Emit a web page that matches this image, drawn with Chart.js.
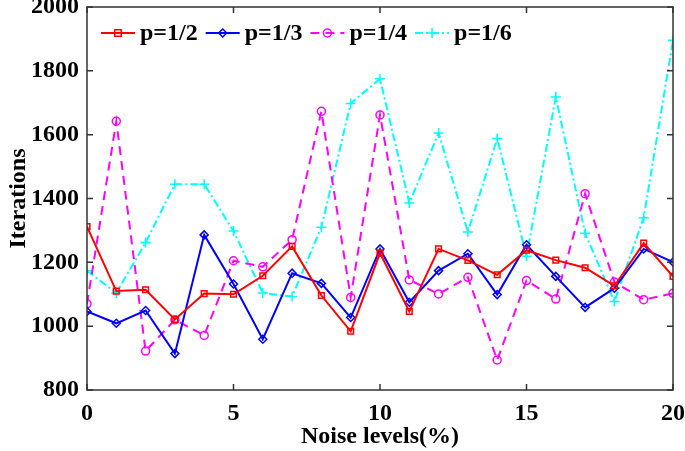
<!DOCTYPE html>
<html>
<head>
<meta charset="utf-8">
<script src="https://cdn.jsdelivr.net/npm/chart.js@4/dist/chart.umd.min.js"></script>
<style>
  html, body { margin: 0; padding: 0; background: #fff; }
  canvas { display: block; }
</style>
</head>
<body>
<canvas id="noiseChart" width="685" height="451"></canvas>
<script>
// noise levels (%) on the x axis
var noiseLevels = [0, 1, 2, 3, 4, 5, 6, 7, 8, 9, 10, 11, 12, 13, 14, 15, 16, 17, 18, 19, 20];

// iterations
var pHalf  = [1312, 1110, 1114, 1021, 1102, 1100, 1158, 1250, 1096, 984, 1229, 1046, 1242, 1206, 1161, 1238, 1207, 1183, 1126, 1260, 1156];
var pThird = [1046, 1009, 1049, 914, 1286, 1132, 959, 1166, 1134, 1027, 1242, 1075, 1174, 1227, 1099, 1255, 1156, 1059, 1119, 1242, 1201];
var pQuart = [1070, 1642, 922, 1020, 971, 1205, 1186, 1271, 1673, 1090, 1662, 1145, 1101, 1153, 894, 1143, 1085, 1415, 1138, 1083, 1103];
var pSixth = [1174, 1104, 1262, 1445, 1445, 1298, 1104, 1093, 1310, 1698, 1775, 1386, 1605, 1295, 1588, 1219, 1718, 1291, 1077, 1340, 1896];

var seriesNames = ['p=1/2', 'p=1/3', 'p=1/4', 'p=1/6'];
var yTicks = [800, 1000, 1200, 1400, 1600, 1800, 2000];
var xTicks = [0, 5, 10, 15, 20];

var FONT = '"Liberation Serif", "Times New Roman", serif';

var toPoints = (vals) => vals.map((v, i) => ({ x: noiseLevels[i], y: v }));

function makeSet(label, vals, color, style, dash) {
    return {
        label: label,
        data: toPoints(vals),
        borderColor: color,
        backgroundColor: 'rgba(0,0,0,0)',
        borderWidth: 2,
        borderDash: dash,
        pointStyle: style,
        pointRadius: style === 'cross' ? 5 : 4,
        pointBorderColor: color,
        pointBackgroundColor: 'rgba(0,0,0,0)',
        pointBorderWidth: 1.5,
        tension: 0
    };
}

var datasets = [
    makeSet(seriesNames[0], pHalf, '#ff0000', 'rect', []),
    makeSet(seriesNames[1], pThird, '#0000ff', 'rectRot', []),
    makeSet(seriesNames[2], pQuart, '#ff00ff', 'circle', [9, 6]),
    makeSet(seriesNames[3], pSixth, '#00ffff', 'cross', [8, 3, 2, 3])
];

function marker(ctx, style, x, y, r) {
    ctx.beginPath();
    if (style === 'rect') {
        ctx.rect(x - r * 0.8, y - r * 0.8, r * 1.6, r * 1.6);
    } else if (style === 'rectRot') {
        ctx.moveTo(x, y - r); ctx.lineTo(x + r, y); ctx.lineTo(x, y + r); ctx.lineTo(x - r, y); ctx.closePath();
    } else if (style === 'circle') {
        ctx.arc(x, y, r, 0, Math.PI * 2);
    } else {
        ctx.moveTo(x - r, y); ctx.lineTo(x + r, y); ctx.moveTo(x, y - r); ctx.lineTo(x, y + r);
    }
    ctx.stroke();
}

// frame, inward ticks and in-plot legend
var framePlugin = {
    id: 'frame',
    afterDatasetsDraw(chart) {
        var ctx = chart.ctx, a = chart.chartArea;
        var xs = chart.scales.x, ys = chart.scales.y;
        ctx.save();
        ctx.strokeStyle = '#333';
        ctx.lineWidth = 1.5;
        ctx.setLineDash([]);
        ctx.strokeRect(a.left, a.top, a.right - a.left, a.bottom - a.top);
        ctx.beginPath();
        xTicks.forEach(t => {
            var px = xs.getPixelForValue(t);
            ctx.moveTo(px, a.bottom); ctx.lineTo(px, a.bottom - 6);
            ctx.moveTo(px, a.top); ctx.lineTo(px, a.top + 6);
        });
        yTicks.forEach(t => {
            var py = ys.getPixelForValue(t);
            ctx.moveTo(a.left, py); ctx.lineTo(a.left + 6, py);
            ctx.moveTo(a.right, py); ctx.lineTo(a.right - 6, py);
        });
        ctx.stroke();

        // legend
        ctx.font = 'bold 24px ' + FONT;
        ctx.textBaseline = 'middle';
        ctx.textAlign = 'left';
        var lx = a.left + 14, ly = a.top + 26;
        chart.data.datasets.forEach(ds => {
            ctx.strokeStyle = ds.borderColor;
            ctx.lineWidth = 2;
            ctx.setLineDash(ds.borderDash);
            ctx.beginPath();
            ctx.moveTo(lx, ly); ctx.lineTo(lx + 34, ly);
            ctx.stroke();
            ctx.setLineDash([]);
            ctx.lineWidth = 1.5;
            marker(ctx, ds.pointStyle, lx + 17, ly, ds.pointStyle === 'cross' ? 5 : 4);
            ctx.fillStyle = '#000';
            ctx.fillText(ds.label, lx + 39, ly + 1);
            lx += 39 + ctx.measureText(ds.label).width + 8;
        });
        ctx.restore();
    }
};

var tickFont = { family: FONT, size: 24, weight: 'bold' };

new Chart('noiseChart', {
    type: 'line',
    data: { datasets: datasets },
    plugins: [framePlugin],
    options: {
        responsive: false,
        animation: false,
        layout: { padding: { top: 7, right: 12, left: 0, bottom: 0 } },
        plugins: { legend: { display: false }, tooltip: { enabled: false } },
        scales: {
            x: {
                type: 'linear',
                min: 0,
                max: 20,
                afterBuildTicks: (s) => { s.ticks = xTicks.map(v => ({ value: v })); },
                afterFit: (s) => { s.height = 61; s.paddingLeft = 0; s.paddingRight = 0; },
                grid: { display: false, drawTicks: false },
                border: { display: false },
                ticks: { color: '#000', padding: 9, maxRotation: 0, font: tickFont, callback: (v) => String(v) },
                title: { display: true, text: 'Noise levels(%)', color: '#000', padding: 0, font: tickFont }
            },
            y: {
                min: 800,
                max: 2000,
                afterBuildTicks: (s) => { s.ticks = yTicks.map(v => ({ value: v })); },
                afterFit: (s) => { s.width = 87; s.paddingTop = 0; s.paddingBottom = 0; },
                grid: { display: false, drawTicks: false },
                border: { display: false },
                ticks: { color: '#000', padding: 8, font: tickFont, callback: (v) => String(v) },
                title: { display: true, text: 'Iterations', color: '#000', padding: 4, font: tickFont }
            }
        }
    }
});
</script>
</body>
</html>
